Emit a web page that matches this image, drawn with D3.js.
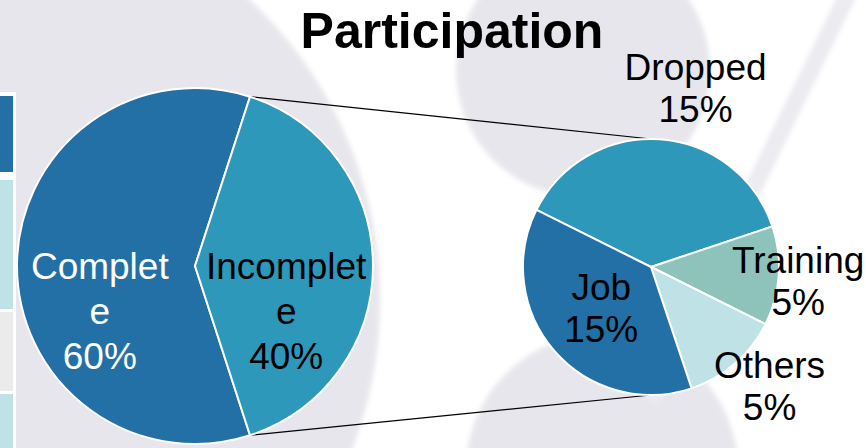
<!DOCTYPE html>
<html><head><meta charset="utf-8">
<script src="https://cdn.jsdelivr.net/npm/d3@7"></script>
<style>body{margin:0;background:#fff;overflow:hidden}svg{display:block}</style>
</head><body><svg id="c" width="866" height="448"></svg>
<script>
// ---- data ----
const chartTitle = "Participation";
const mainCategories = ["Complete", "Incomplete"];
const mainValues = [60, 40];
const mainLabelLines = [["Complet", "e"], ["Incomplet", "e"]];
const subCategories = ["Dropped", "Training", "Others", "Job"];
const subValues = [15, 5, 5, 15];
const subLabelLines = [["Dropped"], ["Training"], ["Others"], ["Job"]];

// ---- layout / style ----
const W = 866, H = 448;
const mainC = [195, 266], mainR = 178;
const subC = [651, 267], subR = 128;
const deg = Math.PI / 180;
const subStart = -63.5 * deg;
const font = "'Liberation Sans', Arial, sans-serif";
const mainColor = d3.scaleOrdinal().domain(mainCategories).range(["#2270a5", "#2e98ba"]);
const subColor = d3.scaleOrdinal().domain(subCategories).range(["#2e98ba", "#8dc3bb", "#bfe2e6", "#2270a5"]);
const mainTextColor = d3.scaleOrdinal().domain(mainCategories).range(["#ffffff", "#000000"]);
// label placement: [radius factor, angle nudge in degrees]
const mainLabelPlace = {Complete: [0.59, -25], Incomplete: [0.57, 26]};
const subLabelPlace = {Dropped: [1.44, 10], Training: [1.155, 1.5], Others: [1.31, -4], Job: [0.5, 2]};

const svg = d3.select("#c");
const defs = svg.append("defs");
defs.append("filter").attr("id", "soft").attr("x", "-10%").attr("y", "-10%").attr("width", "120%").attr("height", "120%")
  .append("feGaussianBlur").attr("stdDeviation", 2.5);

// background watermark
const bg = svg.append("g").attr("filter", "url(#soft)");
bg.append("circle").attr("cx", -31).attr("cy", 300).attr("r", 411).attr("fill", "#e6e6ec");
bg.append("circle").attr("cx", 583).attr("cy", 70).attr("r", 127).attr("fill", "#e6e6ec");
bg.append("circle").attr("cx", 602).attr("cy", 470).attr("r", 136).attr("fill", "#e6e6ec");
bg.append("line").attr("x1", 850).attr("y1", -10).attr("x2", 650).attr("y2", 400)
  .attr("stroke", "#ebebf0").attr("stroke-width", 17);

// left table cells
svg.append("rect").attr("x", 0).attr("y", 92).attr("width", 16).attr("height", H - 92).attr("fill", "#fff");
const cells = [[96, 172, "#2270a5"], [180, 309, "#bfe2e6"], [312, 391, "#ebebeb"], [394, 460, "#bfe2e6"]];
svg.selectAll("rect.cell").data(cells).join("rect").attr("class", "cell")
  .attr("x", 0).attr("width", 13).attr("y", d => d[0]).attr("height", d => d[1] - d[0]).attr("fill", d => d[2]);

// pies
const mainData = mainCategories.map((c, i) => ({cat: c, value: mainValues[i], lines: mainLabelLines[i]}));
const subData = subCategories.map((c, i) => ({cat: c, value: subValues[i], lines: subLabelLines[i]}));
const mainTotal = d3.sum(mainValues);
const splitFrac = mainValues[1] / mainTotal;
const incStart = Math.PI / 2 - splitFrac * Math.PI;
const mainStart = incStart - (mainValues[0] / mainTotal) * 2 * Math.PI;
const mainPie = d3.pie().sort(null).value(d => d.value).startAngle(mainStart).endAngle(mainStart + 2 * Math.PI);
const subPie = d3.pie().sort(null).value(d => d.value).startAngle(subStart).endAngle(subStart + 2 * Math.PI);
const mainArcs = mainPie(mainData);
const subArcs = subPie(subData);

const pt = (c, r, a) => [c[0] + r * Math.sin(a), c[1] - r * Math.cos(a)];

// connector lines
const inc = mainArcs[1];
const conn = [[pt(mainC, mainR, inc.startAngle), pt(subC, subR, 0)],
              [pt(mainC, mainR, inc.endAngle), pt(subC, subR, Math.PI)]];
svg.selectAll("line.conn").data(conn).join("line").attr("class", "conn")
  .attr("x1", d => d[0][0]).attr("y1", d => d[0][1]).attr("x2", d => d[1][0]).attr("y2", d => d[1][1])
  .attr("stroke", "#000").attr("stroke-width", 1.2);

const mainArc = d3.arc().innerRadius(0).outerRadius(mainR);
const subArc = d3.arc().innerRadius(0).outerRadius(subR);
svg.append("g").attr("transform", `translate(${mainC})`).selectAll("path").data(mainArcs).join("path")
  .attr("d", mainArc).attr("fill", d => mainColor(d.data.cat)).attr("stroke", "#fff").attr("stroke-width", 2).attr("stroke-linejoin", "round");
svg.append("g").attr("transform", `translate(${subC})`).selectAll("path").data(subArcs).join("path")
  .attr("d", subArc).attr("fill", d => subColor(d.data.cat)).attr("stroke", "#fff").attr("stroke-width", 2).attr("stroke-linejoin", "round");

// labels
function drawLabels(arcs, c, r, place, colorFn, lineH, fs) {
  arcs.forEach(a => {
    const [k, nudge] = place[a.data.cat];
    const mid = (a.startAngle + a.endAngle) / 2 + nudge * deg;
    const [x, y] = pt(c, r * k, mid);
    const lines = a.data.lines.concat([a.data.value + "%"]);
    const cap = fs * 0.716;
    const blockH = cap + lineH * (lines.length - 1);
    const y0 = y - blockH / 2 + cap;
    const t = svg.append("text").attr("text-anchor", "middle").attr("font-family", font)
      .attr("font-size", fs).attr("fill", colorFn(a.data.cat));
    lines.forEach((ln, i) => t.append("tspan").attr("x", x).attr("y", y0 + i * lineH).text(ln));
  });
}
drawLabels(mainArcs, mainC, mainR, mainLabelPlace, mainTextColor, 45, 37);
drawLabels(subArcs, subC, subR, subLabelPlace, () => "#000", 42, 37);

// title
svg.append("text").attr("x", 452).attr("y", 48).attr("text-anchor", "middle")
  .attr("font-family", font).attr("font-weight", "bold").attr("font-size", 50).attr("fill", "#000").text(chartTitle);
</script></body></html>
